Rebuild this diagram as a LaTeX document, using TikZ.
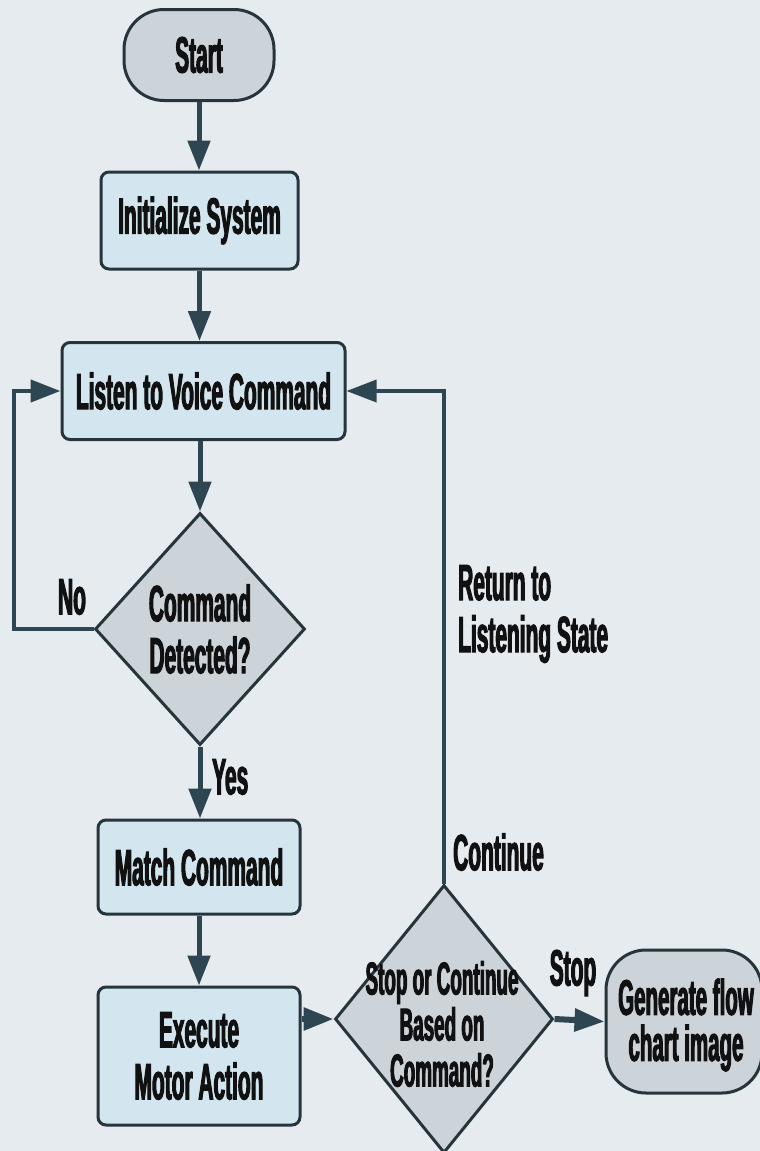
\documentclass[tikz,border=0pt]{standalone}
\usepackage{fontspec}
\setmainfont{Liberation Sans}[FakeStretch=0.41, BoldFeatures={FakeBold=2}]
\usetikzlibrary{arrows.meta,shapes.geometric}
\definecolor{bg}{HTML}{E6EBEF}
\definecolor{boxblue}{HTML}{D3E6F0}
\definecolor{grayfill}{HTML}{CDD4D9}
\definecolor{edge}{HTML}{26343C}
\definecolor{arrowc}{HTML}{2E4652}
\definecolor{txt}{HTML}{111111}
\newcommand{\mainfnt}{\fontsize{51}{52}\selectfont\bfseries}
\newcommand{\smallfnt}{\fontsize{46}{46}\selectfont\bfseries}
\newcommand{\genfnt}{\fontsize{50}{46}\selectfont\bfseries}
\begin{document}
\begin{tikzpicture}[x=1pt,y=-1pt,
  box/.style={draw=edge, line width=3pt, fill=boxblue, rounded corners=8pt, inner sep=0pt, text=txt, font=\mainfnt, align=center},
  term/.style={draw=edge, line width=3pt, fill=grayfill, rounded corners=40pt, inner sep=0pt, text=txt, font=\mainfnt, align=center},
  dia/.style={diamond, draw=edge, line width=3pt, fill=grayfill, inner sep=0pt},
  dtext/.style={text=txt, inner sep=0pt, align=center},
  arr/.style={draw=arrowc, line width=5pt, -{Triangle[length=30pt,width=22pt]}},
  lbl/.style={text=txt, font=\mainfnt, inner sep=0pt, align=left}]
\fill[bg] (0,0) rectangle (760,1151);
\useasboundingbox (0,0) rectangle (760,1151);
% nodes
\node[term, minimum width=150pt, minimum height=91pt] (start) at (199,55) {Start};
\node[box, minimum width=197pt, minimum height=97pt] (init) at (199.5,220.5) {Initialize System};
\node[box, minimum width=283pt, minimum height=97pt] (listen) at (203.5,391) {Listen to Voice Command};
\node[dia, minimum width=210pt, minimum height=232pt] (d1) at (200,629) {};
\node[dtext, font=\mainfnt] (d1t) at (d1.center) {Command\\Detected?};
\node[box, minimum width=202pt, minimum height=94pt] (match) at (199,867) {Match Command};
\node[box, minimum width=202pt, minimum height=138pt] (exec) at (199,1056) {Execute\\Motor Action};
\node[dia, minimum width=218pt, minimum height=268pt] (d2) at (444,1019) {};
\node[dtext, font=\smallfnt] (d2t) at (442,1024) {Stop or Continue\\Based on\\Command?};
\node[term, minimum width=156pt, minimum height=143pt] (gen) at (684,1021.5) {};
\node[dtext, font=\genfnt] (gent) at (686,1025) {Generate flow\\chart image};
% connectors
\coordinate (lp) at (14,629);
\draw[arr] (start.south) -- (start.south |- init.north);
\draw[arr] (init.south) -- (init.south |- listen.north);
\draw[arr] (listen.south -| d1.north) -- (d1.north);
\draw[arr, line width=4.5pt] (d1.west) -- (lp) |- (listen.west);
\draw[arr] (d1.south) -- (d1.south |- match.north);
\draw[arr] (match.south) -- (match.south |- exec.north);
\draw[arr, line width=6pt] (exec.east |- d2.west) -- (d2.west);
\draw[arr, line width=3.5pt] (d2.north) |- (listen.east);
\draw[arr, line width=6pt] (d2.east) -- (gen.west);
% labels
\node[lbl] (no) at (72,597) {No};
\node[lbl, anchor=west] (yes) at (212,777) {Yes};
\node[lbl, anchor=west] (ret) at (458,614) {Return to\\Listening State};
\node[lbl, anchor=west] (cont) at (453,852) {Continue};
\node[lbl] (stop) at (573,973) {Stop};
\end{tikzpicture}
\end{document}
